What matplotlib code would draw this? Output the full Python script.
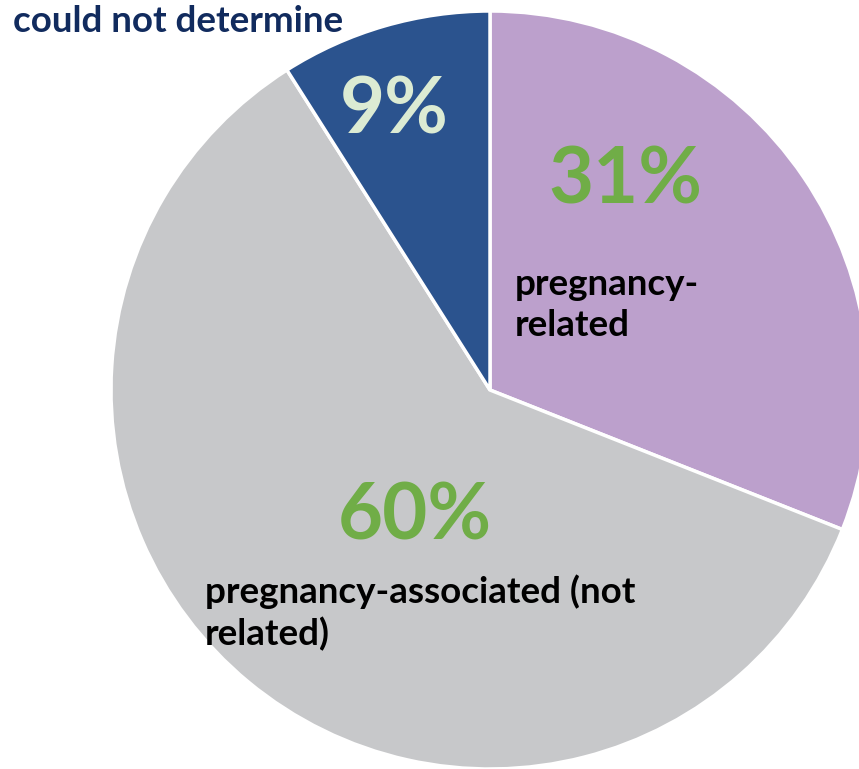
import matplotlib
matplotlib.use("Agg")
import matplotlib.pyplot as plt

labels = ["pregnancy-\nrelated", "pregnancy-associated (not\nrelated)", "could not determine"]
values = [31, 60, 9]
pct_labels = ["31%", "60%", "9%"]
colors = ["#BCA0CC", "#C7C8CA", "#2B538E"]

W, H = 859, 769
fig = plt.figure(figsize=(W / 100, H / 100), dpi=100)
ax = fig.add_axes([0, 0, 1, 1])

cx, cy, r = 490, H - 390, 379
ax.pie(values, colors=colors, startangle=90, counterclock=False,
       center=(cx, cy), radius=r, frame=True,
       wedgeprops=dict(edgecolor="white", linewidth=2.5))
ax.set_xlim(0, W)
ax.set_ylim(0, H)
ax.axis("off")

font = "Lato"
green = "#70AD47"
# percent labels
ax.text(625, H - 182, pct_labels[0], ha="center", va="center", fontsize=56,
        fontweight="bold", color=green, family=font)
ax.text(415, H - 517, pct_labels[1], ha="center", va="center", fontsize=56,
        fontweight="bold", color=green, family=font)
ax.text(394, H - 112, pct_labels[2], ha="center", va="center", fontsize=56,
        fontweight="bold", color="#DCEBD3", family=font)

# category labels
ax.text(515, H - 305, labels[0], ha="left", va="center", fontsize=26.5,
        fontweight="bold", color="black", family=font, linespacing=1.28)
ax.text(205, H - 613, labels[1], ha="left", va="center", fontsize=26.5,
        fontweight="bold", color="black", family=font, linespacing=1.28)
ax.text(13, H - 22, labels[2], ha="left", va="center", fontsize=26.5,
        fontweight="bold", color="#112B5E", family=font)

fig.savefig("out.png", dpi=100)
